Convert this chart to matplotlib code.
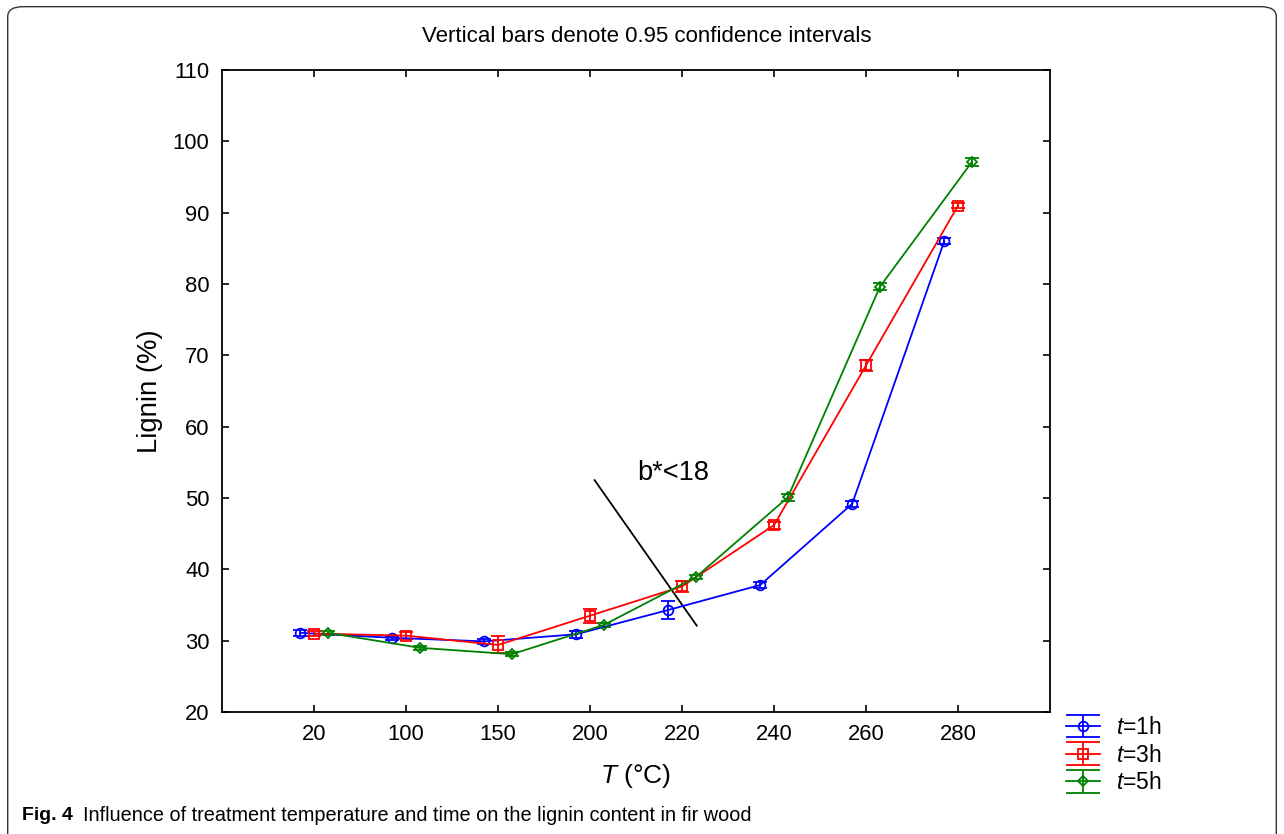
import numpy as np
import matplotlib.pyplot as plt
from matplotlib.patches import FancyBboxPatch

# datos
temperaturas = ['20', '100', '150', '200', '220', '240', '260', '280']
lignina_1h = [31.1, 30.4, 29.9, 30.9, 34.3, 37.8, 49.2, 86.0]
lignina_3h = [31.0, 30.7, 29.4, 33.5, 37.6, 46.2, 68.6, 91.0]
lignina_5h = [31.1, 29.0, 28.1, 32.2, 38.9, 50.1, 79.6, 97.1]
err_1h = [0.4, 0.3, 0.4, 0.5, 1.2, 0.4, 0.4, 0.4]
err_3h = [0.4, 0.5, 1.2, 1.0, 0.8, 0.5, 0.8, 0.4]
err_5h = [0.3, 0.3, 0.3, 0.3, 0.3, 0.5, 0.5, 0.5]
etiquetas = ['$t$=1h', '$t$=3h', '$t$=5h']

plt.rcParams['font.family'] = ['Liberation Sans', 'DejaVu Sans']
plt.rcParams['mathtext.fontset'] = 'custom'
plt.rcParams['mathtext.it'] = 'Liberation Sans:italic'
plt.rcParams['mathtext.rm'] = 'Liberation Sans'

fig = plt.figure(figsize=(12.84, 8.34), dpi=100)
ax = fig.add_axes([0.1729, 0.1463, 0.6449, 0.7697])

x = np.arange(len(temperaturas))
series = [(lignina_1h, err_1h, 'blue', 'o', 7, -0.15),
          (lignina_3h, err_3h, 'red', 's', 7, 0.0),
          (lignina_5h, err_5h, 'green', 'D', 5.5, 0.15)]
proxies = []
for (y, e, c, m, ms, dx), lab in zip(series, etiquetas):
    ax.errorbar(x + dx, y, yerr=e, color=c, marker=m, ms=ms, mfc='none',
                mec=c, mew=1.3, lw=1.3, capsize=5, elinewidth=1.3,
                capthick=1.3)
    # manejador para la leyenda con tapas anchas
    h = ax.errorbar([np.nan], [np.nan], yerr=[1], color=c, marker=m, ms=ms,
                    mfc='none', mec=c, mew=1.3, lw=1.3, capsize=12.5,
                    elinewidth=1.3, capthick=1.3)
    proxies.append(h)

# linea b*<18
ax.plot([3.05, 4.16], [52.5, 32.1], color='black', lw=1.3)
ax.text(3.9, 53.5, 'b*<18', fontsize=19.5, ha='center', va='center')

ax.set_xlim(-1, 8)
ax.set_ylim(20, 110)
ax.set_xticks(x)
ax.set_xticklabels(temperaturas)
ax.set_yticks(np.arange(20, 111, 10))
ax.tick_params(direction='in', top=True, right=True, labelsize=15.8,
               length=5, width=1.2, pad=9)
for s in ax.spines.values():
    s.set_linewidth(1.3)
ax.set_xlabel('$T$ (°C)', fontsize=19, labelpad=12)
ax.set_ylabel('Lignin (%)', fontsize=19.8, labelpad=7)
fig.text(0.504, 0.956, 'Vertical bars denote 0.95 confidence intervals',
         fontsize=16, ha='center', va='center')

ax.legend(proxies, etiquetas, loc='upper left', bbox_to_anchor=(1.008, 0.008),
          frameon=False, fontsize=16.5, handlelength=1.5, labelspacing=0.2,
          handletextpad=0.7, borderaxespad=0.0, handleheight=0.7)

# marco y pie de figura
marco = FancyBboxPatch((0.006, -0.05), 0.988, 1.042, transform=fig.transFigure,
                       boxstyle='round,pad=0,rounding_size=0.012',
                       fill=False, ec='#333333', lw=1.0)
fig.patches.append(marco)
fig.text(0.017, 0.022, 'Fig. 4', fontsize=14, va='center', weight='bold')
fig.text(0.065, 0.022,
         'Influence of treatment temperature and time on the lignin content in fir wood',
         fontsize=14.3, va='center')

fig.savefig('out.png', dpi=100)
